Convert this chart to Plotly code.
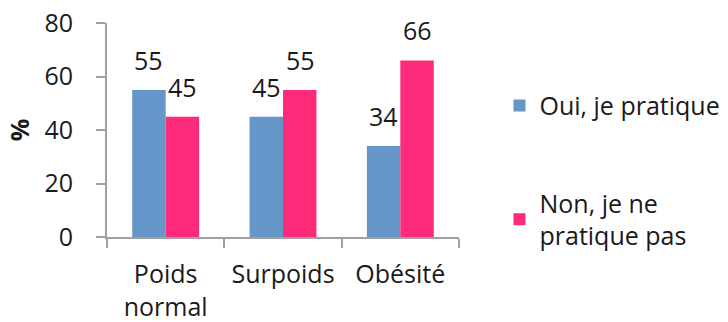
import plotly.graph_objects as go

categories = ["Poids<br>normal", "Surpoids", "Obésité"]
oui_values = [55, 45, 34]
non_values = [45, 55, 66]
series_names = ["Oui, je pratique", "Non, je ne<br>pratique pas"]
y_ticks = [0, 20, 40, 60, 80]

BLUE = "#6497c8"
PINK = "#fe2a7a"
AXIS = "#a0a0a0"
TEXT = "#1a1a1a"
FONT = "Open Sans"

fig = go.Figure()
fig.add_trace(go.Bar(x=categories, y=oui_values, name=series_names[0],
                     marker=dict(color=BLUE, line=dict(width=0)),
                     legendgroup="a"))
fig.add_trace(go.Bar(x=categories, y=non_values, name=series_names[1],
                     marker=dict(color=PINK, line=dict(width=0)),
                     legendgroup="b"))

# value labels sitting above each bar
for vals, shift in ((oui_values, -17), (non_values, 17)):
    for cat, v in zip(categories, vals):
        fig.add_annotation(x=cat, y=v, text=str(v), showarrow=False,
                           xshift=shift, yshift=30,
                           font=dict(family=FONT, size=25, color=TEXT))

fig.update_layout(
    width=728, height=322,
    margin=dict(l=107, r=269, t=23, b=85, autoexpand=False),
    paper_bgcolor="white", plot_bgcolor="white",
    barmode="group", bargap=0.43, bargroupgap=0,
    font=dict(family=FONT, size=25, color=TEXT),
    showlegend=True,
    legend=dict(x=1.115, y=0.31, xanchor="left", yanchor="middle",
                traceorder="grouped", tracegroupgap=62,
                font=dict(family=FONT, size=25, color=TEXT),
                bgcolor="rgba(0,0,0,0)"),
)
fig.update_xaxes(
    type="category", showline=True, linecolor=AXIS, linewidth=2,
    ticks="outside", tickson="boundaries", ticklen=9, tickcolor=AXIS,
    tickwidth=2, showgrid=False, ticklabelstandoff=14, automargin=False,
    tickfont=dict(family=FONT, size=25, color=TEXT),
)
fig.update_yaxes(
    range=[0, 80], tickvals=y_ticks, showline=True, linecolor=AXIS,
    linewidth=2, ticks="outside", ticklen=9, tickcolor=AXIS, tickwidth=2,
    showgrid=False, zeroline=False, ticklabelstandoff=18, automargin=False,
    tickfont=dict(family=FONT, size=25, color=TEXT),
    title=dict(text="<b>%</b>", standoff=8,
               font=dict(family=FONT, size=25, color=TEXT)),
)

fig.write_html("out.html")
